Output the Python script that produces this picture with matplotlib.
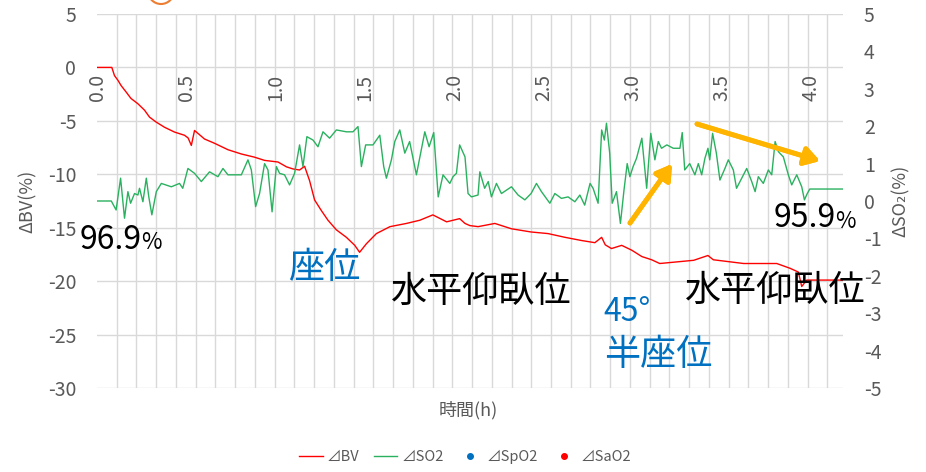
import numpy as np
import matplotlib.pyplot as plt
from matplotlib.patches import Ellipse

plt.rcParams['font.family'] = ['Noto Sans CJK JP', 'DejaVu Sans']
plt.rcParams['axes.unicode_minus'] = False

# ΔBV (%), left axis
bv_t = [0.0, 0.083, 0.098, 0.117, 0.135, 0.163, 0.19, 0.229, 0.266, 0.294, 0.33,
        0.378, 0.434, 0.49, 0.51, 0.528, 0.546, 0.602, 0.658, 0.733, 0.808, 0.882,
        0.938, 1.013, 1.05, 1.06, 1.097, 1.134, 1.162, 1.19, 1.218, 1.256, 1.293,
        1.34, 1.396, 1.443, 1.47, 1.508, 1.564, 1.64, 1.732, 1.807, 1.88, 1.957,
        2.03, 2.06, 2.087, 2.133, 2.227, 2.32, 2.43, 2.525, 2.62, 2.713, 2.787,
        2.825, 2.845, 2.88, 2.937, 2.993, 3.05, 3.105, 3.15, 3.34, 3.42, 3.45,
        3.62, 3.805, 3.88, 3.926, 3.945, 3.973, 4.18]
bv = [0.0, 0.0, -0.77, -1.2, -1.7, -2.3, -2.9, -3.4, -4.0, -4.65, -5.1,
      -5.6, -6.05, -6.35, -6.6, -7.3, -5.9, -6.7, -7.1, -7.7, -8.1, -8.4,
      -8.7, -8.85, -9.2, -9.3, -9.5, -9.6, -9.25, -10.6, -12.4, -13.4, -14.3,
      -15.2, -15.9, -16.65, -17.3, -16.5, -15.55, -14.9, -14.6, -14.3, -13.8, -14.45,
      -14.15, -14.6, -14.8, -14.9, -14.6, -15.1, -15.4, -15.55, -15.9, -16.2, -16.4,
      -15.9, -16.6, -16.95, -16.65, -17.1, -17.7, -18.0, -18.35, -18.05, -17.6, -18.0,
      -18.35, -18.35, -18.8, -19.15, -20.5, -19.9, -19.9]

# ΔSO2 (%), right axis
so2_t = [0.0, 0.08, 0.107, 0.132, 0.154, 0.173, 0.188, 0.21, 0.229, 0.238, 0.257,
         0.276, 0.29, 0.307, 0.332, 0.36, 0.416, 0.462, 0.48, 0.509, 0.546, 0.584,
         0.63, 0.677, 0.705, 0.733, 0.808, 0.845, 0.864, 0.888, 0.91, 0.938, 0.957,
         0.98, 1.004, 1.022, 1.05, 1.078, 1.106, 1.134, 1.153, 1.175, 1.209, 1.237,
         1.265, 1.302, 1.34, 1.396, 1.433, 1.461, 1.48, 1.504, 1.545, 1.583, 1.605,
         1.62, 1.648, 1.667, 1.695, 1.723, 1.75, 1.788, 1.835, 1.859, 1.885, 1.91,
         1.937, 1.975, 1.993, 2.012, 2.03, 2.06, 2.077, 2.096, 2.133, 2.143, 2.17,
         2.19, 2.208, 2.236, 2.264, 2.32, 2.357, 2.395, 2.43, 2.46, 2.488, 2.535,
         2.563, 2.6, 2.637, 2.675, 2.703, 2.73, 2.76, 2.777, 2.805, 2.825, 2.84,
         2.852, 2.87, 2.884, 2.908, 2.93, 2.95, 2.968, 2.983, 3.001, 3.02, 3.05,
         3.077, 3.1, 3.123, 3.142, 3.16, 3.19, 3.226, 3.263, 3.276, 3.29, 3.318,
         3.347, 3.366, 3.385, 3.403, 3.42, 3.43, 3.446, 3.467, 3.487, 3.515, 3.534,
         3.562, 3.58, 3.609, 3.637, 3.665, 3.684, 3.702, 3.73, 3.758, 3.777, 3.796,
         3.814, 3.842, 3.87, 3.889, 3.917, 3.945, 3.96, 3.976, 3.99, 4.18]
so2 = [0.0, 0.0, -0.24, 0.61, -0.46, 0.25, -0.06, 0.2, 0.16, 0.34, -0.02,
       0.61, 0.11, -0.37, 0.25, 0.47, 0.38, 0.47, 0.34, 0.87, 0.74, 0.52,
       0.78, 0.65, 0.87, 0.7, 0.7, 1.1, 0.83, -0.15, 0.2, 1.0, 0.83,
       -0.29, 0.92, 0.74, 0.7, 0.43, 0.74, 1.5, 0.92, 1.72, 1.63, 1.45,
       1.85, 1.68, 1.9, 1.85, 1.85, 1.99, 0.92, 1.5, 1.5, 1.76, 0.92,
       0.61, 1.1, 1.59, 1.9, 1.28, 1.59, 0.7, 1.85, 1.45, 1.83, 0.11,
       0.7, 0.47, 0.65, 0.74, 1.5, 1.18, 0.2, 0.11, 0.16, 0.78, 0.34,
       0.52, 0.11, 0.47, 0.2, 0.38, 0.16, 0.03, 0.2, 0.47, 0.25, -0.06,
       0.2, 0.07, 0.11, -0.02, 0.16, -0.11, 0.47, 0.34, -0.06, 1.9, 1.63,
       2.08, 1.28, -0.06, 0.25, -0.6, 0.29, 1.0, 0.65, 0.92, 1.14, 1.68,
       0.34, 1.81, 1.1, 1.59, 1.41, 1.5, 1.41, 1.41, 1.83, 0.83, 1.0,
       0.7, 1.0, 0.7, 1.14, 1.41, 1.1, 1.81, 1.28, 0.56, 0.87, 1.1,
       0.83, 0.34, 0.61, 0.87, 0.52, 0.25, 0.65, 0.47, 0.83, 0.7, 1.59,
       1.32, 1.18, 0.7, 0.43, 0.7, 0.38, 0.03, 0.2, 0.32, 0.32]

x_ticks = [0.0, 0.5, 1.0, 1.5, 2.0, 2.5, 3.0, 3.5, 4.0]
bv_ticks = [5, 0, -5, -10, -15, -20, -25, -30]
so2_ticks = [5, 4, 3, 2, 1, 0, -1, -2, -3, -4, -5]

W, H = 926, 472
GRAY = '#595959'
GRID = '#d9d9d9'
RED = '#ff0000'
GREEN = '#2ab15f'
BLUE = '#0070c0'
ORANGE = '#ffb400'


def fx(px):
    return px / W


def fy(py):
    return 1 - py / H


fig = plt.figure(figsize=(W / 100, H / 100), dpi=100)
ax = fig.add_axes([fx(97), fy(388), fx(843) - fx(97), fy(14) - fy(388)])

ax.plot(bv_t, bv, color=RED, lw=1.0, label='⊿BV')
ax.set_xlim(0, 4.176)
ax.set_ylim(-30, 5)
ax.set_yticks(bv_ticks)
ax.set_xticks(x_ticks)
ax.set_xticks(np.arange(0, 4.17, 0.1105), minor=True)
for s in ax.spines.values():
    s.set_visible(False)
ax.tick_params(axis='x', which='both', length=0, labelbottom=False)
ax.tick_params(axis='y', length=0, pad=15, labelsize=14, labelcolor=GRAY)
ax.grid(True, which='minor', axis='x', color=GRID, lw=1)
ax.grid(True, which='major', axis='y', color=GRID, lw=1)
ax.set_axisbelow(True)
ax.set_ylabel('ΔBV(%)', fontsize=13, color=GRAY, labelpad=8)

ax2 = ax.twinx()
ax2.plot(so2_t, so2, color=GREEN, lw=1.0, label='⊿SO2')
ax2.plot([], [], 'o', color=BLUE, ms=4, label='⊿SpO2')
ax2.plot([], [], 'o', color=RED, ms=4, label='⊿SaO2')
ax2.set_ylim(-5, 5)
ax2.set_yticks(so2_ticks)
for s in ax2.spines.values():
    s.set_visible(False)
ax2.tick_params(axis='y', length=0, pad=15, labelsize=14, labelcolor=GRAY)
ax2.set_ylabel('ΔSO₂(%)', fontsize=13, color=GRAY, labelpad=7)

# time labels sit on the ΔBV = 0 line, drawn from the upper axes so they cover the grid
ax2.xaxis.set_visible(True)
ax2.spines['bottom'].set_position(('axes', 30 / 35))
ax2.set_xticklabels([f'{v:.1f}' for v in x_ticks], rotation=90)
ax2.tick_params(axis='x', which='both', length=0, pad=5, labelsize=14, labelcolor=GRAY,
                labelbottom=True, labeltop=False)
ax2.grid(False)

fig.text(fx(468), fy(410), '時間(h)', fontsize=13, color=GRAY, ha='center', va='center')

# annotations
fig.text(fx(142), fy(240), '96.9', fontsize=23, ha='right', va='center')
fig.text(fx(141), fy(243), '%', fontsize=16, ha='left', va='center')
fig.text(fx(836), fy(218), '95.9', fontsize=23, ha='right', va='center')
fig.text(fx(835), fy(221), '%', fontsize=16, ha='left', va='center')
fig.text(fx(324), fy(268), '座位', fontsize=26, color=BLUE, ha='center', va='center')
fig.text(fx(481), fy(292), '水平仰臥位', fontsize=26, ha='center', va='center')
fig.text(fx(775), fy(291), '水平仰臥位', fontsize=26, ha='center', va='center')
fig.text(fx(627), fy(312), '45°', fontsize=23, color=BLUE, ha='center', va='center')
fig.text(fx(658), fy(355), '半座位', fontsize=26, color=BLUE, ha='center', va='center')

arrow = dict(arrowstyle='-|>,head_length=0.9,head_width=0.55', color=ORANGE, lw=3.5,
             shrinkA=0, shrinkB=0)
fig.add_artist(plt.annotate('', xy=(fx(672), fy(164)), xytext=(fx(630), fy(223)),
                            xycoords='figure fraction', arrowprops=arrow))
fig.add_artist(plt.annotate('', xy=(fx(820), fy(161)), xytext=(fx(697), fy(124)),
                            xycoords='figure fraction', arrowprops=arrow))

fig.add_artist(Ellipse((fx(161), fy(-9)), 26 / W, 26 / H, transform=fig.transFigure,
                       fill=False, edgecolor='#ed7d31', lw=1.5))

handles = ax.get_legend_handles_labels()[0] + ax2.get_legend_handles_labels()[0]
labels = ax.get_legend_handles_labels()[1] + ax2.get_legend_handles_labels()[1]
fig.legend(handles, labels, loc='center', bbox_to_anchor=(fx(465), fy(457)), ncol=4,
           frameon=False, fontsize=10.5, labelcolor=GRAY, handlelength=1.6,
           columnspacing=1.0, handletextpad=0.3)

fig.savefig('out.png', dpi=100)
